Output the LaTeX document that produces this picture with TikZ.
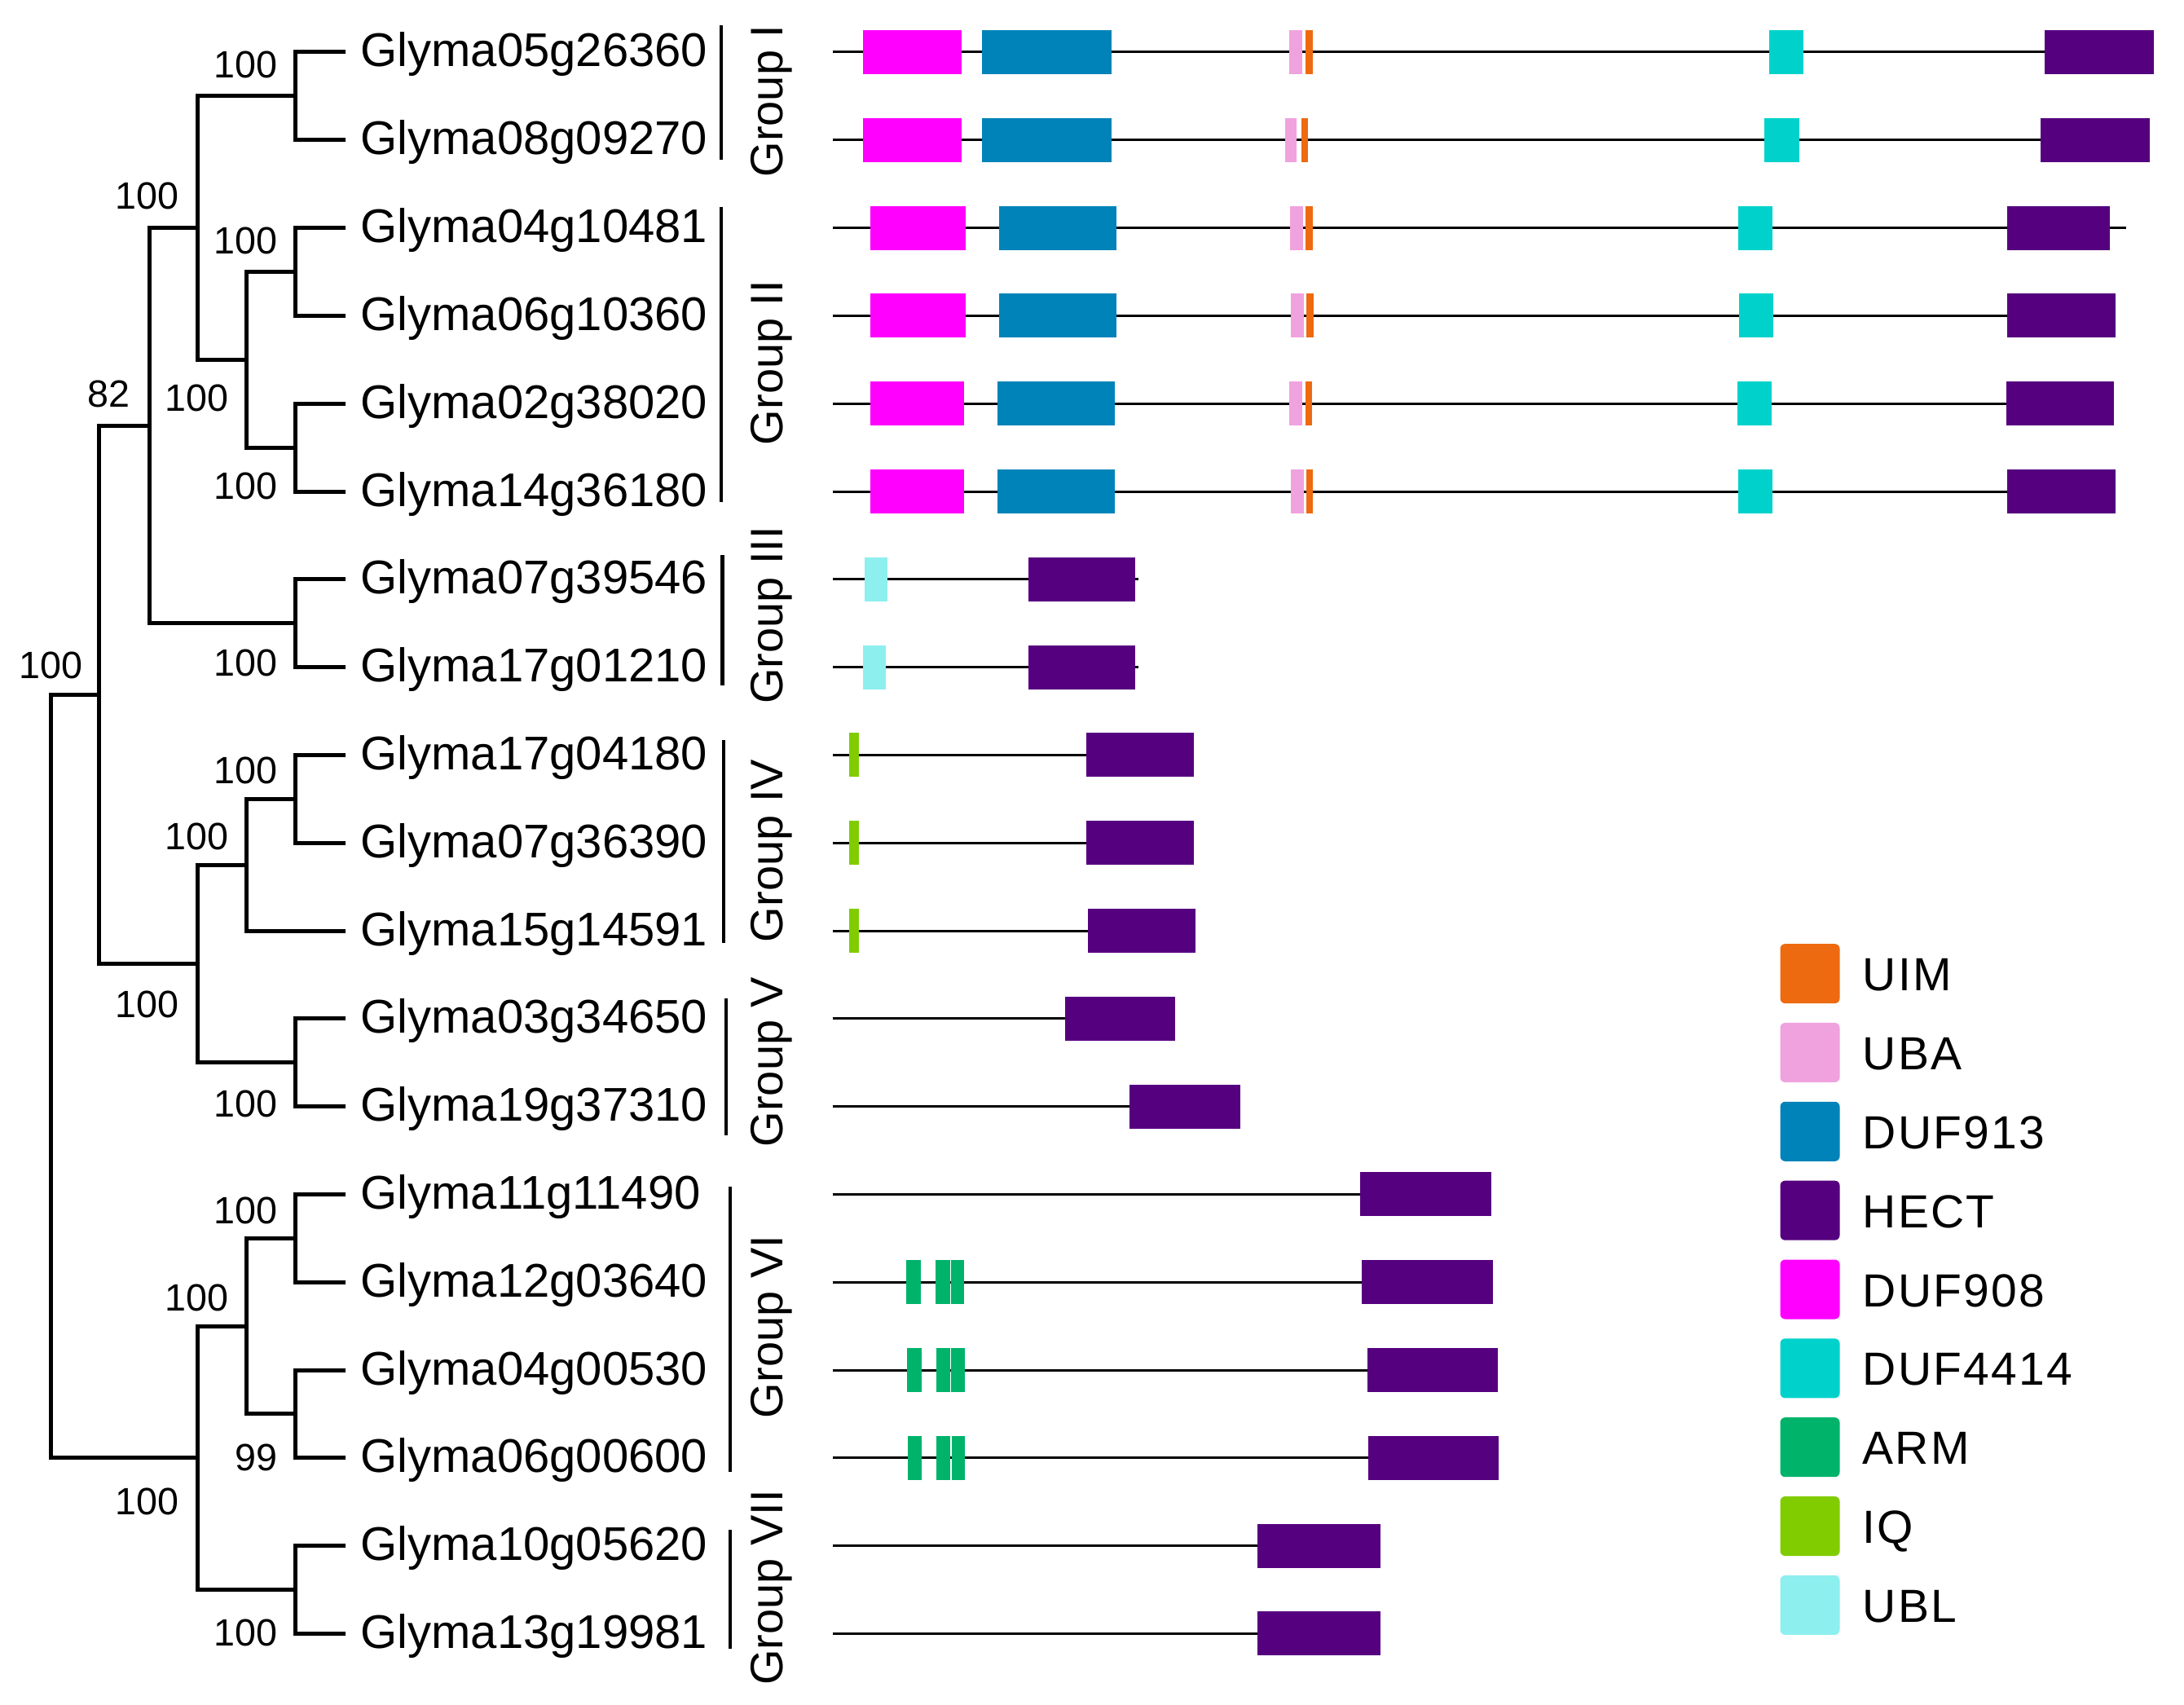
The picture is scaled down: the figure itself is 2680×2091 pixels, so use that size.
\documentclass[tikz,border=0pt]{standalone}
\usepackage{fontspec}
\setmainfont{Liberation Sans}
\definecolor{cUIM}{HTML}{EE6A10}
\definecolor{cUBA}{HTML}{F0A2DE}
\definecolor{cDUFa}{HTML}{0083B9}
\definecolor{cHECT}{HTML}{55007F}
\definecolor{cDUFb}{HTML}{FF00FF}
\definecolor{cDUFc}{HTML}{00D2CB}
\definecolor{cARM}{HTML}{00B36B}
\definecolor{cIQ}{HTML}{80CC00}
\definecolor{cUBL}{HTML}{8EEFEF}
\newcommand\dbox[4]{\fill[#4] (#2,{64+107.8*(#1)-27}) rectangle (#3,{64+107.8*(#1)+27});}
\newcommand\bline[2]{\draw[bb] (1022,{64+107.8*(#1)}) -- (#2,{64+107.8*(#1)});}
\begin{document}
\begin{tikzpicture}[x=0.3pt,y=-0.3pt,
  tree/.style={line width=1.5pt},
  bb/.style={line width=0.9pt},
  grp/.style={line width=1.4pt},
  leaf/.style={anchor=base west, font=\fontsize{17.4}{20}\selectfont, inner sep=0pt},
  boot/.style={anchor=base east, font=\fontsize{14}{16}\selectfont, inner sep=0pt},
  glab/.style={rotate=90, anchor=base, font=\fontsize{16.8}{20}\selectfont, inner sep=0pt},
  leg/.style={anchor=base west, font=\fontsize{17.1}{20}\selectfont\addfontfeatures{LetterSpace=4}, inner sep=0pt},
  sw/.style={rounded corners=1.8pt}]
\useasboundingbox (0,0) rectangle (2680,2091);
\fill[white] (0,0) rectangle (2680,2091);

% leaves
\foreach \i/\nm in {0/Glyma05g26360,1/Glyma08g09270,2/Glyma04g10481,3/Glyma06g10360,
  4/Glyma02g38020,5/Glyma14g36180,6/Glyma07g39546,7/Glyma17g01210,8/Glyma17g04180,
  9/Glyma07g36390,10/Glyma15g14591,11/Glyma03g34650,12/Glyma19g37310,13/Glyma11g11490,
  14/Glyma12g03640,15/Glyma04g00530,16/Glyma06g00600,17/Glyma10g05620,18/Glyma13g19981}{
  \coordinate (t\i) at (424,{64+107.8*\i});
  \node[leaf] (l\i) at (442,{82+107.8*\i}) {\nm};
}

% internal nodes
\coordinate (n0508) at (362,{64+107.8*0.5});
\coordinate (n0406) at (362,{64+107.8*2.5});
\coordinate (n0214) at (362,{64+107.8*4.5});
\coordinate (nII) at (302,{64+107.8*3.5});
\coordinate (nIaII) at (242,{64+107.8*2});
\coordinate (nIII) at (362,{64+107.8*6.5});
\coordinate (nA) at (183,{64+107.8*4.25});
\coordinate (n1707) at (362,{64+107.8*8.5});
\coordinate (nIV) at (302,{64+107.8*9.25});
\coordinate (nV) at (362,{64+107.8*11.5});
\coordinate (nIVV) at (242,{64+107.8*10.375});
\coordinate (nB) at (121,{64+107.8*7.3125});
\coordinate (n1112) at (362,{64+107.8*13.5});
\coordinate (n0406b) at (362,{64+107.8*15.5});
\coordinate (nVI) at (302,{64+107.8*14.5});
\coordinate (nVII) at (362,{64+107.8*17.5});
\coordinate (nVIVII) at (242,{64+107.8*16});
\coordinate (root) at (62,{64+107.8*11.65625});

% tree connectors
\draw[tree] (t0) -| (n0508); \draw[tree] (t1) -| (n0508);
\draw[tree] (t2) -| (n0406); \draw[tree] (t3) -| (n0406);
\draw[tree] (t4) -| (n0214); \draw[tree] (t5) -| (n0214);
\draw[tree] (n0406) -| (nII); \draw[tree] (n0214) -| (nII);
\draw[tree] (n0508) -| (nIaII); \draw[tree] (nII) -| (nIaII);
\draw[tree] (t6) -| (nIII); \draw[tree] (t7) -| (nIII);
\draw[tree] (nIaII) -| (nA); \draw[tree] (nIII) -| (nA);
\draw[tree] (t8) -| (n1707); \draw[tree] (t9) -| (n1707);
\draw[tree] (n1707) -| (nIV); \draw[tree] (t10) -| (nIV);
\draw[tree] (t11) -| (nV); \draw[tree] (t12) -| (nV);
\draw[tree] (nIV) -| (nIVV); \draw[tree] (nV) -| (nIVV);
\draw[tree] (nA) -| (nB); \draw[tree] (nIVV) -| (nB);
\draw[tree] (t13) -| (n1112); \draw[tree] (t14) -| (n1112);
\draw[tree] (t15) -| (n0406b); \draw[tree] (t16) -| (n0406b);
\draw[tree] (n1112) -| (nVI); \draw[tree] (n0406b) -| (nVI);
\draw[tree] (t17) -| (nVII); \draw[tree] (t18) -| (nVII);
\draw[tree] (nVI) -| (nVIVII); \draw[tree] (nVII) -| (nVIVII);
\draw[tree] (nB) -| (root); \draw[tree] (nVIVII) -| (root);

% bootstrap values
\node[boot] (b1) at (341,96) {100};
\node[boot] (b2) at (220,257) {100};
\node[boot] (b3) at (341,312) {100};
\node[boot] (b4) at (160,500) {82};
\node[boot] (b5) at (281,504) {100};
\node[boot] (b6) at (341,612) {100};
\node[boot] (b7) at (102,832) {100};
\node[boot] (b8) at (341,829) {100};
\node[boot] (b9) at (341,961) {100};
\node[boot] (b10) at (281,1042) {100};
\node[boot] (b11) at (220,1248) {100};
\node[boot] (b12) at (341,1370) {100};
\node[boot] (b13) at (341,1501) {100};
\node[boot] (b14) at (281,1608) {100};
\node[boot] (b15) at (341,1804) {99};
\node[boot] (b16) at (220,1858) {100};
\node[boot] (b17) at (341,2019) {100};

% group bars and labels
\draw[grp] (885,31) -- (885,196);
\draw[grp] (885,254) -- (885,616);
\draw[grp] (886.5,681) -- (886.5,841);
\draw[grp] (888,908) -- (888,1157);
\draw[grp] (891,1225) -- (891,1393);
\draw[grp] (896,1456) -- (896,1806);
\draw[grp] (896,1877) -- (896,2023);
\node[glab] (g1) at (960,124) {Group I};
\node[glab] (g2) at (960,445) {Group II};
\node[glab] (g3) at (960,755) {Group III};
\node[glab] (g4) at (960,1044) {Group IV};
\node[glab] (g5) at (960,1303) {Group V};
\node[glab] (g6) at (960,1628) {Group VI};
\node[glab] (g7) at (960,1948) {Group VII};

% domain structures
\bline{0}{2639}
\dbox{0}{1059}{1180}{cDUFb}\dbox{0}{1205}{1364}{cDUFa}\dbox{0}{1582}{1598}{cUBA}\dbox{0}{1602}{1611}{cUIM}\dbox{0}{2171}{2213}{cDUFc}\dbox{0}{2509}{2643}{cHECT}
\bline{1}{2638}
\dbox{1}{1059}{1180}{cDUFb}\dbox{1}{1205}{1364}{cDUFa}\dbox{1}{1577}{1591}{cUBA}\dbox{1}{1597}{1605}{cUIM}\dbox{1}{2165}{2208}{cDUFc}\dbox{1}{2504}{2638}{cHECT}
\bline{2}{2609}
\dbox{2}{1067.5}{1185}{cDUFb}\dbox{2}{1226}{1370}{cDUFa}\dbox{2}{1583}{1599}{cUBA}\dbox{2}{1602}{1611}{cUIM}\dbox{2}{2132.5}{2175}{cDUFc}\dbox{2}{2462.5}{2589}{cHECT}
\bline{3}{2596}
\dbox{3}{1067.5}{1185}{cDUFb}\dbox{3}{1226}{1370}{cDUFa}\dbox{3}{1584}{1600}{cUBA}\dbox{3}{1603}{1612}{cUIM}\dbox{3}{2133.5}{2176}{cDUFc}\dbox{3}{2462.5}{2596}{cHECT}
\bline{4}{2594}
\dbox{4}{1067.5}{1183}{cDUFb}\dbox{4}{1224}{1367.5}{cDUFa}\dbox{4}{1582}{1598}{cUBA}\dbox{4}{1602}{1610}{cUIM}\dbox{4}{2131.5}{2174}{cDUFc}\dbox{4}{2461.5}{2594}{cHECT}
\bline{5}{2596}
\dbox{5}{1067.5}{1183}{cDUFb}\dbox{5}{1224}{1368}{cDUFa}\dbox{5}{1584}{1600}{cUBA}\dbox{5}{1603}{1611}{cUIM}\dbox{5}{2132.5}{2175}{cDUFc}\dbox{5}{2462.5}{2596}{cHECT}
\bline{6}{1397}
\dbox{6}{1061}{1089}{cUBL}\dbox{6}{1262}{1393}{cHECT}
\bline{7}{1397}
\dbox{7}{1059}{1087}{cUBL}\dbox{7}{1262}{1393}{cHECT}
\bline{8}{1465}
\dbox{8}{1042}{1054}{cIQ}\dbox{8}{1333}{1465}{cHECT}
\bline{9}{1465}
\dbox{9}{1042}{1054}{cIQ}\dbox{9}{1333}{1465}{cHECT}
\bline{10}{1467}
\dbox{10}{1042}{1054}{cIQ}\dbox{10}{1335}{1467}{cHECT}
\bline{11}{1442}
\dbox{11}{1307}{1442}{cHECT}
\bline{12}{1522}
\dbox{12}{1386}{1522}{cHECT}
\bline{13}{1830}
\dbox{13}{1669}{1830}{cHECT}
\bline{14}{1832}
\dbox{14}{1112}{1130}{cARM}\dbox{14}{1148}{1165.7}{cARM}\dbox{14}{1166.7}{1183}{cARM}\dbox{14}{1671}{1832}{cHECT}
\bline{15}{1838}
\dbox{15}{1113}{1131}{cARM}\dbox{15}{1149}{1166}{cARM}\dbox{15}{1167}{1184}{cARM}\dbox{15}{1678}{1838}{cHECT}
\bline{16}{1839}
\dbox{16}{1114}{1131}{cARM}\dbox{16}{1149}{1166}{cARM}\dbox{16}{1168}{1184}{cARM}\dbox{16}{1679}{1839}{cHECT}
\bline{17}{1694}
\dbox{17}{1543}{1694}{cHECT}
\bline{18}{1694}
\dbox{18}{1543}{1694}{cHECT}

% legend
\foreach \k/\c/\t in {0/cUIM/UIM,1/cUBA/UBA,2/cDUFa/DUF913,3/cHECT/HECT,4/cDUFb/DUF908,
  5/cDUFc/DUF4414,6/cARM/ARM,7/cIQ/IQ,8/cUBL/UBL}{
  \fill[\c,sw] (2184.5,{1194.6+96.85*\k-36.5}) rectangle (2257.5,{1194.6+96.85*\k+36.5});
  \node[leg] (lg\k) at (2285,{1194.6+96.85*\k+21}) {\t};
}
\end{tikzpicture}
\end{document}
